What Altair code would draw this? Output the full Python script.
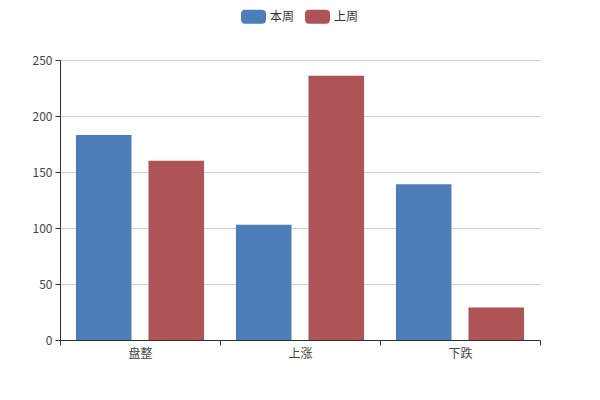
import altair as alt
import pandas as pd

categories = ["盘整", "上涨", "下跌"]
series_names = ["本周", "上周"]
this_week = [183, 103, 139]
last_week = [160, 236, 29]
colors = ["#4e7eba", "#ae5356"]

rows = []
for c, v in zip(categories, this_week):
    rows.append({"cat": c, "series": "本周", "value": v})
for c, v in zip(categories, last_week):
    rows.append({"cat": c, "series": "上周", "value": v})
df = pd.DataFrame(rows)

FONT = "Noto Sans CJK SC"
pill = ("M-0.66,-0.56 H0.66 Q1,-0.56 1,-0.22 V0.22 Q1,0.56 0.66,0.56 "
        "H-0.66 Q-1,0.56 -1,0.22 V-0.22 Q-1,-0.56 -0.66,-0.56 Z")

chart = alt.Chart(df).mark_bar().encode(
    x=alt.X("cat:N", sort=categories, title=None,
            scale=alt.Scale(paddingInner=0, paddingOuter=0),
            axis=alt.Axis(tickBand="extent", labelAngle=0, grid=False,
                          domainColor="#333", tickColor="#333", tickSize=5,
                          labelPadding=3, labelColor="#444", labelFontSize=12,
                          labelFont=FONT)),
    xOffset=alt.XOffset("series:N", sort=series_names,
                        scale=alt.Scale(paddingInner=0.234, paddingOuter=0.22)),
    y=alt.Y("value:Q", title=None,
            scale=alt.Scale(domain=[0, 250], nice=False),
            axis=alt.Axis(values=[0, 50, 100, 150, 200, 250], grid=True,
                          gridColor="#cccccc", domainColor="#333", tickColor="#333",
                          tickSize=5, labelPadding=3, labelColor="#444",
                          labelFontSize=12, labelFont=FONT)),
    color=alt.Color("series:N", sort=series_names,
                    scale=alt.Scale(domain=series_names, range=colors),
                    legend=alt.Legend(title=None, orient="none", direction="horizontal",
                                      legendX=181, legendY=-56,
                                      symbolType=pill, symbolSize=625,
                                      symbolStrokeWidth=0, symbolOpacity=1,
                                      labelFont=FONT, labelFontSize=12,
                                      labelColor="#333", labelOffset=4,
                                      columnPadding=10)),
).properties(
    width=480, height=280,
    autosize=alt.AutoSizeParams(type="none"),
    padding={"left": 52, "top": 52, "right": 52, "bottom": 52},
).configure_view(stroke=None)

chart.save("out.html", embed_options={"renderer": "svg", "actions": False})
